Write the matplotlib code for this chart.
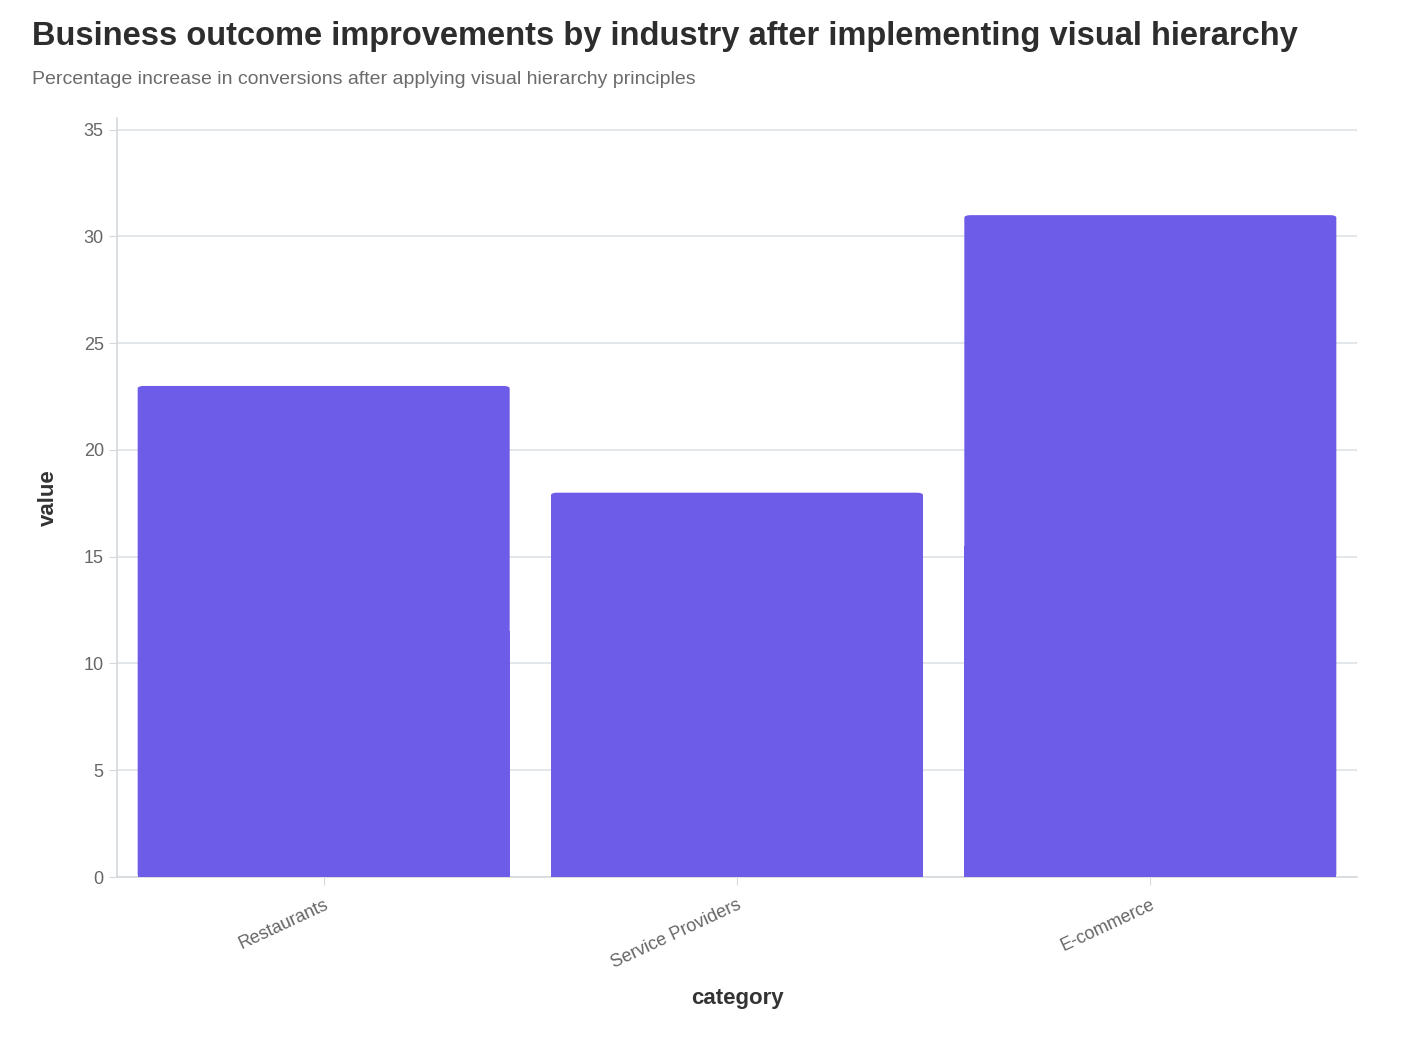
import matplotlib.pyplot as plt
from matplotlib.patches import FancyBboxPatch

plt.rcParams['font.family'] = ['Liberation Sans', 'DejaVu Sans']

categories = ['Restaurants', 'Service Providers', 'E-commerce']
values = [23, 18, 31]

fig = plt.figure(figsize=(14.06, 10.56), dpi=100)
ax = fig.add_axes([117 / 1406, 1 - 877 / 1056, 1240 / 1406, 759 / 1056])

bars = ax.bar(range(len(categories)), values, width=0.9, color='#6c5ce7', zorder=3)
# soften the top corners a little
for b in bars:
    b.set_visible(False)
    r = FancyBboxPatch((b.get_x(), 0), b.get_width(), b.get_height(),
                       boxstyle='round,pad=0,rounding_size=0.015',
                       mutation_aspect=8, color='#6c5ce7', zorder=3, linewidth=0)
    ax.add_patch(r)
    ax.add_patch(plt.Rectangle((b.get_x(), 0), b.get_width(), b.get_height() / 2,
                               color='#6c5ce7', zorder=3, linewidth=0))

ax.set_xlim(-0.5, 2.5)
ax.set_ylim(0, 35.55)
ax.set_yticks(range(0, 36, 5))
ax.yaxis.grid(True, color='#dfe3e6', linewidth=1.2, zorder=0)
ax.set_xticks(range(len(categories)))
ax.set_xticklabels(categories, rotation=25, ha='right', rotation_mode='anchor')

for s in ['top', 'right']:
    ax.spines[s].set_visible(False)
for s in ['left', 'bottom']:
    ax.spines[s].set_color('#d5d9dc')
    ax.spines[s].set_linewidth(1.2)
ax.tick_params(axis='both', colors='#d5d9dc', labelcolor='#666666', labelsize=13, length=6)
ax.tick_params(axis='x', pad=8)

ax.set_xlabel('category', fontsize=16, fontweight='bold', color='#333333', labelpad=12)
ax.set_ylabel('value', fontsize=16, fontweight='bold', color='#333333', labelpad=18)

fig.text(32 / 1406, 1 - 37 / 1056, 'Business outcome improvements by industry after implementing visual hierarchy',
         fontsize=23.5, fontweight='bold', color='#2d2d2d', va='center')
fig.text(32 / 1406, 1 - 79 / 1056, 'Percentage increase in conversions after applying visual hierarchy principles',
         fontsize=14, color='#6b6b6b', va='center')

fig.savefig('out.png', dpi=100, facecolor='white')
